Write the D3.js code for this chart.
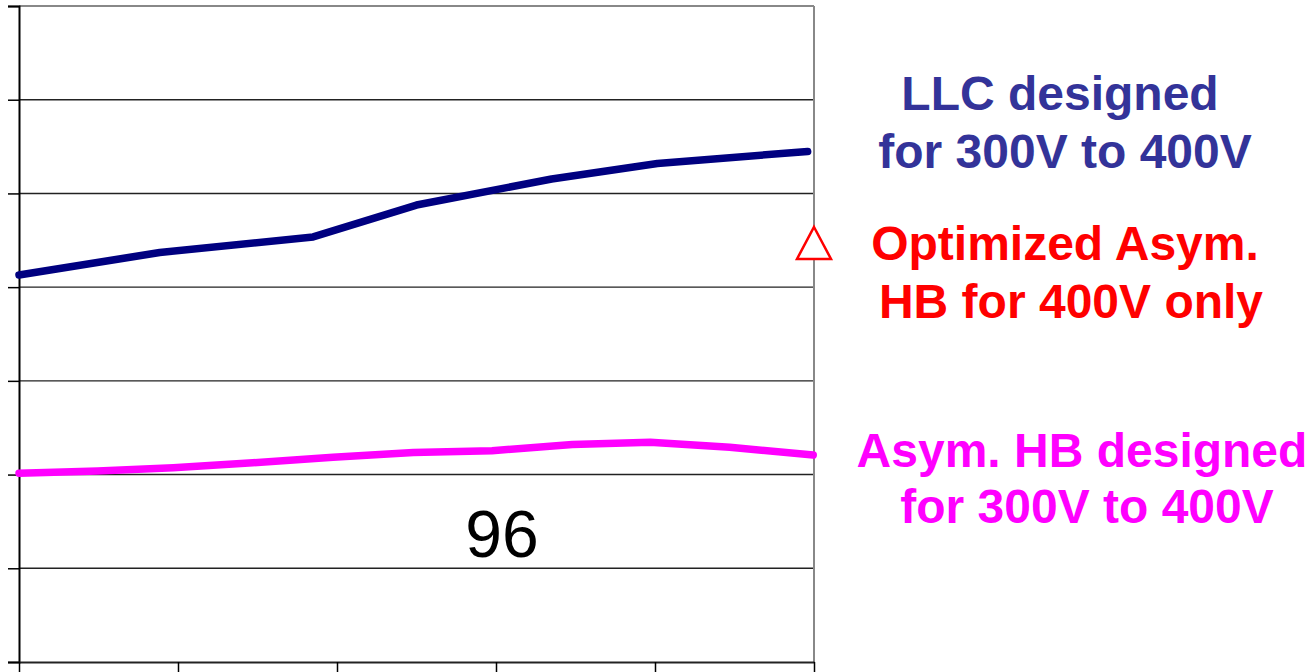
<!DOCTYPE html>
<html>
<head>
<meta charset="utf-8">
<script src="https://cdn.jsdelivr.net/npm/d3@7"></script>
<style>
  html, body { margin: 0; padding: 0; background: #fff; }
  svg { display: block; }
</style>
</head>
<body>
<svg id="chart" width="1316" height="672"></svg>
<script>
// Efficiency (%) versus load (% of full load)
const llcLoad = [0, 17.7, 37, 50, 67, 80.3, 99.2];
const llcEff  = [97.065, 97.185, 97.268, 97.438, 97.577, 97.66, 97.724];

const asymLoad = [0, 9.9, 19.4, 29.4, 39.5, 49.6, 59.5, 69.6, 79.4, 89.4, 99.9];
const asymEff  = [96.007, 96.019, 96.037, 96.063, 96.092, 96.118, 96.127, 96.161, 96.172, 96.146, 96.104];

const optLoad = [100];
const optEff  = [97.225];

const yTicks = [95, 95.5, 96, 96.5, 97, 97.5, 98, 98.5];
const xTicks = [0, 20, 40, 60, 80, 100];

const legendLines = [
  { text: "LLC designed", color: "#333399", x: 1060, y: 110 },
  { text: "for 300V to 400V", color: "#333399", x: 1065, y: 168 },
  { text: "Optimized Asym.", color: "#ff0000", x: 1065, y: 260 },
  { text: "HB for 400V only", color: "#ff0000", x: 1071, y: 318 },
  { text: "Asym. HB designed", color: "#ff00ff", x: 1082, y: 467 },
  { text: "for 300V to 400V", color: "#ff00ff", x: 1087, y: 523 }
];

const svg = d3.select("#chart");
const plotLeft = 19, plotRight = 814, plotTop = 6, plotBottom = 662;

const x = d3.scaleLinear().domain([0, 100]).range([plotLeft, plotRight]);
const y = d3.scaleLinear().domain([95, 98.5]).range([plotBottom, plotTop]);

// horizontal gridlines
svg.append("g")
  .selectAll("line")
  .data(yTicks.slice(1, -1))
  .join("line")
  .attr("x1", plotLeft).attr("x2", plotRight)
  .attr("y1", d => y(d)).attr("y2", d => y(d))
  .attr("stroke", "#222").attr("stroke-width", 1.4);

// plot frame: top and right in grey
svg.append("line").attr("x1", plotLeft).attr("x2", plotRight).attr("y1", plotTop).attr("y2", plotTop)
  .attr("stroke", "#888").attr("stroke-width", 2);
svg.append("line").attr("x1", plotRight).attr("x2", plotRight).attr("y1", plotTop).attr("y2", plotBottom)
  .attr("stroke", "#888").attr("stroke-width", 2);

// y axis (ticks only, no labels)
const yAxis = d3.axisLeft(y).tickValues(yTicks).tickSize(11).tickFormat("");
const gy = svg.append("g").attr("transform", `translate(${plotLeft},0)`).call(yAxis);
gy.select(".domain").attr("stroke", "#000").attr("stroke-width", 2);
gy.selectAll(".tick line").attr("stroke", "#000").attr("stroke-width", 1.5);

// x axis (ticks only, no labels)
const xAxis = d3.axisBottom(x).tickValues(xTicks).tickSize(12).tickSizeOuter(0).tickFormat("");
const gx = svg.append("g").attr("transform", `translate(0,${plotBottom})`).call(xAxis);
gx.select(".domain").attr("stroke", "#222").attr("stroke-width", 2);
gx.selectAll(".tick line").attr("stroke", "#000").attr("stroke-width", 1.5);

const line = d3.line().x(d => x(d[0])).y(d => y(d[1]));

svg.append("path")
  .datum(d3.zip(asymLoad, asymEff))
  .attr("d", line)
  .attr("fill", "none").attr("stroke", "#ff00ff").attr("stroke-width", 7.5)
  .attr("stroke-linecap", "round").attr("stroke-linejoin", "round");

svg.append("path")
  .datum(d3.zip(llcLoad, llcEff))
  .attr("d", line)
  .attr("fill", "none").attr("stroke", "#000080").attr("stroke-width", 7.5)
  .attr("stroke-linecap", "round").attr("stroke-linejoin", "round");

// triangle marker for the single optimized point
const tri = (cx, cy) => `M${cx},${cy - 18}L${cx + 17},${cy + 14}L${cx - 17},${cy + 14}Z`;
svg.append("g")
  .selectAll("path")
  .data(d3.zip(optLoad, optEff))
  .join("path")
  .attr("d", d => tri(x(d[0]), y(d[1])))
  .attr("fill", "#fff").attr("stroke", "#ff0000").attr("stroke-width", 2.5);

// value label
svg.append("text")
  .attr("x", 502).attr("y", 557)
  .attr("text-anchor", "middle")
  .attr("font-family", "Liberation Sans, Arial, sans-serif")
  .attr("font-size", 66)
  .attr("fill", "#000")
  .text("96");

// legend text
svg.append("g")
  .selectAll("text")
  .data(legendLines)
  .join("text")
  .attr("x", d => d.x).attr("y", d => d.y)
  .attr("text-anchor", "middle")
  .attr("font-family", "Liberation Sans, Arial, sans-serif")
  .attr("font-weight", "bold")
  .attr("font-size", 48)
  .attr("fill", d => d.color)
  .text(d => d.text);
</script>
</body>
</html>
